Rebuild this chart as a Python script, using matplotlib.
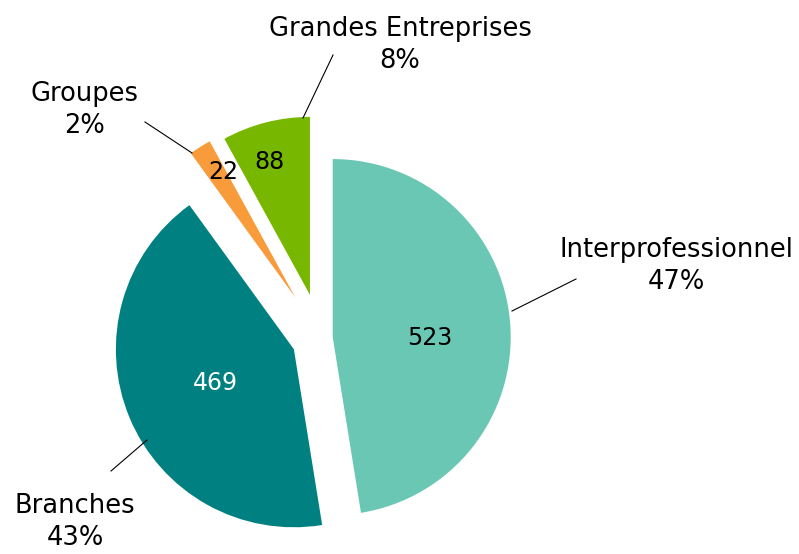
import matplotlib.pyplot as plt

categories = ['Interprofessionnel', 'Branches', 'Groupes', 'Grandes Entreprises']
values = [523, 469, 22, 88]
colors = ['#69C7B4', '#008080', '#F89B3B', '#78B700']
explode = [0.066, 0.165, 0.27, 0.25]   # fraction of radius

total = sum(values)
pcts = [round(v / total * 100) for v in values]

R = 178
fig = plt.figure(figsize=(7.99, 5.54), dpi=100)
ax = fig.add_axes([0, 0, 1, 1])

ax.pie(values, colors=colors, explode=[e * R for e in explode], startangle=90,
       counterclock=False, center=(321, 216), radius=R, frame=True)
ax.set_xlim(0, 799)
ax.set_ylim(0, 554)
ax.set_aspect('equal')
ax.axis('off')

fs = 18.5
# values inside slices
inner_pos = [(430, 216), (215, 171), (223, 382), (270, 392)]
inner_col = ['black', 'white', 'black', 'black']
for v, (x, y), c in zip(values, inner_pos, inner_col):
    ax.text(x, y, str(v), ha='center', va='center', fontsize=17, color=c)

# outer labels
label_pos = [(676, 288), (75, 32), (85, 444), (400, 509)]
for cat, p, (x, y) in zip(categories, pcts, label_pos):
    ax.text(x, y, f'{cat}\n{p}%', ha='center', va='center', fontsize=fs,
            linespacing=1.3)

leaders = [((512, 576), (243, 275)), ((147, 111), (114, 83)),
           ((192, 145), (401, 432)), ((303, 333), (436, 499))]
for xs, ys in leaders:
    ax.plot(xs, ys, color='black', lw=0.8)

fig.savefig('out.png', dpi=100)
